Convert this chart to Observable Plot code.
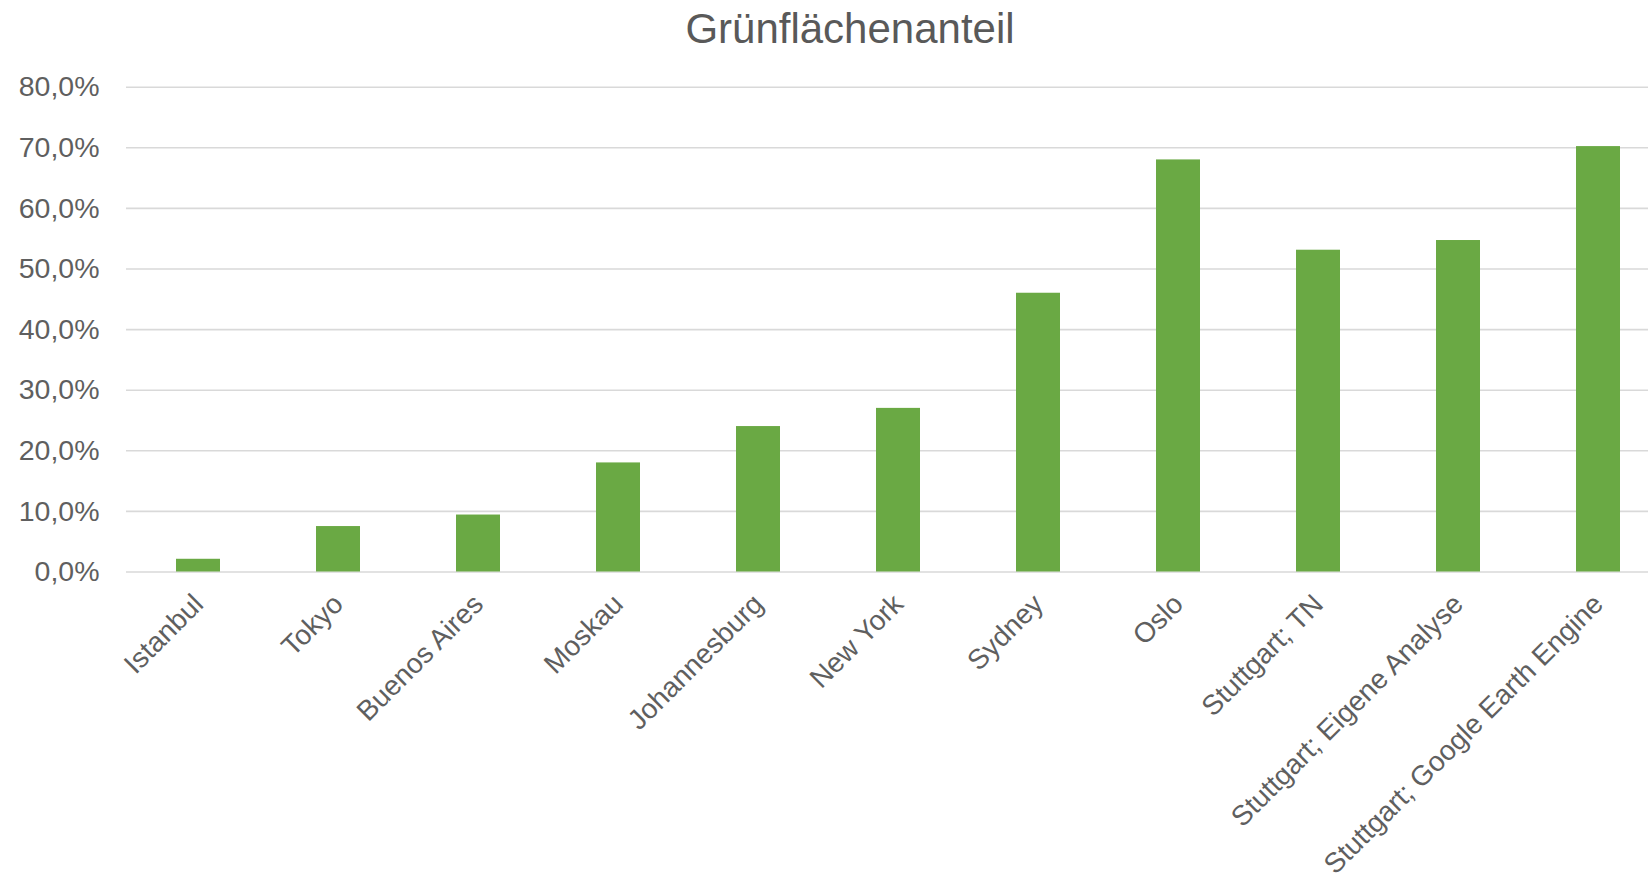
<!DOCTYPE html>
<html>
<head>
<meta charset="utf-8">
<script src="https://cdn.jsdelivr.net/npm/d3@7"></script>
<script src="https://cdn.jsdelivr.net/npm/@observablehq/plot@0.6"></script>
<style>
  html, body { margin: 0; padding: 0; background: #fff; }
  #wrap { position: relative; width: 1648px; height: 874px; overflow: hidden; }
  #title { position: absolute; left: 0; top: 8px; width: 1700px; text-align: center;
           font-family: "Liberation Sans", Arial, sans-serif; font-size: 42px; line-height: 42px; color: #595959; }
  #chart { position: absolute; left: 0; top: 0; }
</style>
</head>
<body>
<div id="wrap">
  <div id="chart"></div>
  <div id="title">Grünflächenanteil</div>
</div>
<script>
const categories = ["Istanbul", "Tokyo", "Buenos Aires", "Moskau", "Johannesburg", "New York", "Sydney", "Oslo", "Stuttgart; TN", "Stuttgart; Eigene Analyse", "Stuttgart; Google Earth Engine"];
const shares = [0.021, 0.075, 0.094, 0.180, 0.240, 0.270, 0.460, 0.680, 0.531, 0.547, 0.702];
const yTicks = [0, 0.1, 0.2, 0.3, 0.4, 0.5, 0.6, 0.7, 0.8];

const de = d3.formatLocale({decimal: ",", thousands: ".", grouping: [3], currency: ["", " €"]});
const pct = de.format(".1%");

const data = categories.map((c, i) => ({cat: c, v: shares[i]}));
const font = "Liberation Sans, Arial, sans-serif";

const chart = Plot.plot({
  width: 1648,
  height: 874,
  marginLeft: 126,
  marginRight: 0,
  marginTop: 86.7,
  marginBottom: 302.5,
  style: {fontFamily: font, fontSize: "28px", color: "#595959", background: "transparent", overflow: "visible"},
  x: {domain: categories, range: [126, 1670], paddingInner: 0.687, paddingOuter: 0.3435, axis: null},
  y: {domain: [0, 0.8], axis: null},
  marks: [
    Plot.ruleY(yTicks, {stroke: "#d9d9d9", strokeWidth: 1.6}),
    Plot.barY(data, {x: "cat", y: "v", fill: "#6aa944"}),
    Plot.axisY({ticks: yTicks, tickFormat: pct, tickSize: 0, tickPadding: 27, fontSize: 28.5, fill: "#5f5f5f", label: null}),
    Plot.text(categories, {x: d => d, y: () => 0, dy: 27.5, rotate: -45, textAnchor: "end", lineAnchor: "middle", fontSize: 28, fill: "#5f5f5f"})
  ]
});
document.getElementById("chart").appendChild(chart);
</script>
</body>
</html>
